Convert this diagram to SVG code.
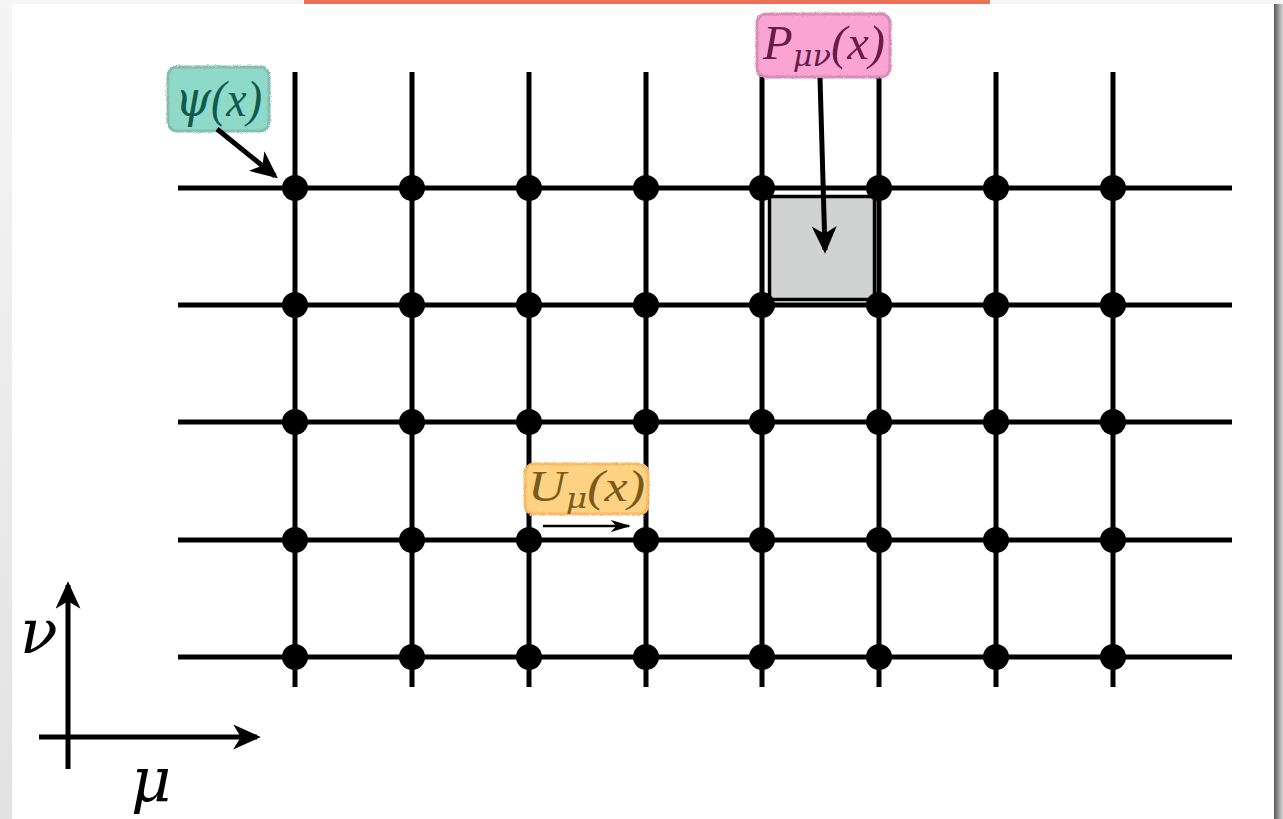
<svg xmlns="http://www.w3.org/2000/svg" width="1283" height="819" viewBox="0 0 1283 819">
  <defs>
    <linearGradient id="bg" x1="0" y1="0" x2="0" y2="1">
      <stop offset="0" stop-color="#f5f5f5"/>
      <stop offset="1" stop-color="#e2e2e2"/>
    </linearGradient>
    <linearGradient id="shadowR" x1="0" y1="0" x2="1" y2="0">
      <stop offset="0" stop-color="#555555"/>
      <stop offset="1" stop-color="#d8d8d8"/>
    </linearGradient>
    <filter id="rough" x="-10%" y="-10%" width="120%" height="120%">
      <feTurbulence type="fractalNoise" baseFrequency="0.9" numOctaves="2" seed="3" result="n"/>
      <feDisplacementMap in="SourceGraphic" in2="n" scale="3" xChannelSelector="R" yChannelSelector="G"/>
    </filter>
    <marker id="head" viewBox="0 0 22 20" refX="19" refY="10" markerWidth="28" markerHeight="25" markerUnits="userSpaceOnUse" orient="auto">
      <path d="M0,0 L22,10 L0,20 L6,10 z" fill="#000"/>
    </marker>
    <marker id="headSmall" viewBox="0 0 22 20" refX="20" refY="10" markerWidth="20" markerHeight="12" markerUnits="userSpaceOnUse" orient="auto" preserveAspectRatio="none">
      <path d="M0,0 L22,10 L0,20 L6,10 z" fill="#000"/>
    </marker>
    <style>
      .grid { stroke:#000; stroke-width:5; fill:none; }
      .site { fill:#000; }
      .conn { stroke:#000; stroke-width:5; fill:none; marker-end:url(#head); }
      .math { font-family:"Liberation Serif","DejaVu Serif",serif; font-style:italic; }
      .greek { font-family:"DejaVu Serif","Liberation Serif",serif; font-style:italic; }
      .box { filter:url(#rough); stroke-width:3; }
    </style>
  </defs>

  <!-- page background and card -->
  <rect x="0" y="0" width="1283" height="819" fill="url(#bg)"/>
  <rect x="1274" y="4" width="9" height="815" fill="url(#shadowR)"/>
  <rect x="12" y="4" width="1262" height="815" fill="#ffffff"/>
  <rect x="304" y="0" width="686" height="4" fill="#ec7357"/>

  <!-- lattice links -->
  <g id="lattice-links" class="grid">
    <line x1="178" y1="188" x2="1232" y2="188"/>
    <line x1="178" y1="305" x2="1232" y2="305"/>
    <line x1="178" y1="422" x2="1232" y2="422"/>
    <line x1="178" y1="540" x2="1232" y2="540"/>
    <line x1="178" y1="657" x2="1232" y2="657"/>
    <line x1="295" y1="72" x2="295" y2="687"/>
    <line x1="412" y1="72" x2="412" y2="687"/>
    <line x1="529" y1="72" x2="529" y2="687"/>
    <line x1="646" y1="72" x2="646" y2="687"/>
    <line x1="762" y1="72" x2="762" y2="687"/>
    <line x1="879" y1="72" x2="879" y2="687"/>
    <line x1="996" y1="72" x2="996" y2="687"/>
    <line x1="1113" y1="72" x2="1113" y2="687"/>
  </g>

  <!-- plaquette -->
  <g id="plaquette">
    <rect x="769.5" y="196.5" width="105" height="103" fill="#d1d2d2" stroke="#000" stroke-width="3.5"/>
  </g>

  <!-- lattice sites -->
  <g id="sites">
    <g id="site-0-0"><circle class="site" cx="295" cy="188" r="13"/></g>
    <g id="site-1-0"><circle class="site" cx="412" cy="188" r="13"/></g>
    <g id="site-2-0"><circle class="site" cx="529" cy="188" r="13"/></g>
    <g id="site-3-0"><circle class="site" cx="646" cy="188" r="13"/></g>
    <g id="site-4-0"><circle class="site" cx="762" cy="188" r="13"/></g>
    <g id="site-5-0"><circle class="site" cx="879" cy="188" r="13"/></g>
    <g id="site-6-0"><circle class="site" cx="996" cy="188" r="13"/></g>
    <g id="site-7-0"><circle class="site" cx="1113" cy="188" r="13"/></g>
    <g id="site-0-1"><circle class="site" cx="295" cy="305" r="13"/></g>
    <g id="site-1-1"><circle class="site" cx="412" cy="305" r="13"/></g>
    <g id="site-2-1"><circle class="site" cx="529" cy="305" r="13"/></g>
    <g id="site-3-1"><circle class="site" cx="646" cy="305" r="13"/></g>
    <g id="site-4-1"><circle class="site" cx="762" cy="305" r="13"/></g>
    <g id="site-5-1"><circle class="site" cx="879" cy="305" r="13"/></g>
    <g id="site-6-1"><circle class="site" cx="996" cy="305" r="13"/></g>
    <g id="site-7-1"><circle class="site" cx="1113" cy="305" r="13"/></g>
    <g id="site-0-2"><circle class="site" cx="295" cy="422" r="13"/></g>
    <g id="site-1-2"><circle class="site" cx="412" cy="422" r="13"/></g>
    <g id="site-2-2"><circle class="site" cx="529" cy="422" r="13"/></g>
    <g id="site-3-2"><circle class="site" cx="646" cy="422" r="13"/></g>
    <g id="site-4-2"><circle class="site" cx="762" cy="422" r="13"/></g>
    <g id="site-5-2"><circle class="site" cx="879" cy="422" r="13"/></g>
    <g id="site-6-2"><circle class="site" cx="996" cy="422" r="13"/></g>
    <g id="site-7-2"><circle class="site" cx="1113" cy="422" r="13"/></g>
    <g id="site-0-3"><circle class="site" cx="295" cy="540" r="13"/></g>
    <g id="site-1-3"><circle class="site" cx="412" cy="540" r="13"/></g>
    <g id="site-2-3"><circle class="site" cx="529" cy="540" r="13"/></g>
    <g id="site-3-3"><circle class="site" cx="646" cy="540" r="13"/></g>
    <g id="site-4-3"><circle class="site" cx="762" cy="540" r="13"/></g>
    <g id="site-5-3"><circle class="site" cx="879" cy="540" r="13"/></g>
    <g id="site-6-3"><circle class="site" cx="996" cy="540" r="13"/></g>
    <g id="site-7-3"><circle class="site" cx="1113" cy="540" r="13"/></g>
    <g id="site-0-4"><circle class="site" cx="295" cy="657" r="13"/></g>
    <g id="site-1-4"><circle class="site" cx="412" cy="657" r="13"/></g>
    <g id="site-2-4"><circle class="site" cx="529" cy="657" r="13"/></g>
    <g id="site-3-4"><circle class="site" cx="646" cy="657" r="13"/></g>
    <g id="site-4-4"><circle class="site" cx="762" cy="657" r="13"/></g>
    <g id="site-5-4"><circle class="site" cx="879" cy="657" r="13"/></g>
    <g id="site-6-4"><circle class="site" cx="996" cy="657" r="13"/></g>
    <g id="site-7-4"><circle class="site" cx="1113" cy="657" r="13"/></g>
  </g>

  <!-- labels -->
  <g id="label-psi">
    <rect class="box" x="168" y="67" width="101" height="64" rx="9" fill="#8ed9c8" stroke="#86bdb3"/>
    <text class="math" x="175" y="116" font-size="50" fill="#0f5a4c" textLength="87" lengthAdjust="spacingAndGlyphs"><tspan class="greek">ψ</tspan>(x)</text>
  </g>
  <g id="label-plaquette">
    <rect class="box" x="757" y="14" width="133" height="63" rx="9" fill="#f9a4d2" stroke="#d98cb6"/>
    <text class="math" x="763" y="59" font-size="48" fill="#6a1b47" textLength="122" lengthAdjust="spacingAndGlyphs">P<tspan class="greek" font-size="30" dy="7">μν</tspan><tspan dy="-7">(x)</tspan></text>
  </g>
  <g id="label-link">
    <rect class="box" x="525" y="464" width="123" height="50" rx="9" fill="#fdd283" stroke="#f7ba68"/>
    <text class="math" x="528" y="501" font-size="44" fill="#7a5a18" textLength="117" lengthAdjust="spacingAndGlyphs">U<tspan class="greek" font-size="28" dy="7">μ</tspan><tspan dy="-7">(x)</tspan></text>
  </g>

  <!-- axes -->
  <g id="axes">
    <line class="conn" x1="68" y1="769" x2="68" y2="585"/>
    <line class="conn" x1="39" y1="737" x2="257" y2="737"/>
    <text class="greek" x="20" y="653" font-size="62" fill="#000">ν</text>
    <text class="greek" x="131" y="801" font-size="62" fill="#000">μ</text>
  </g>

  <!-- connectors -->
  <g id="connectors">
    <line class="conn" x1="217" y1="129" x2="275" y2="176"/>
    <line class="conn" x1="820" y1="78" x2="825" y2="250"/>
    <line x1="543" y1="526" x2="629" y2="526" stroke="#000" stroke-width="2.5" marker-end="url(#headSmall)"/>
  </g>
</svg>
